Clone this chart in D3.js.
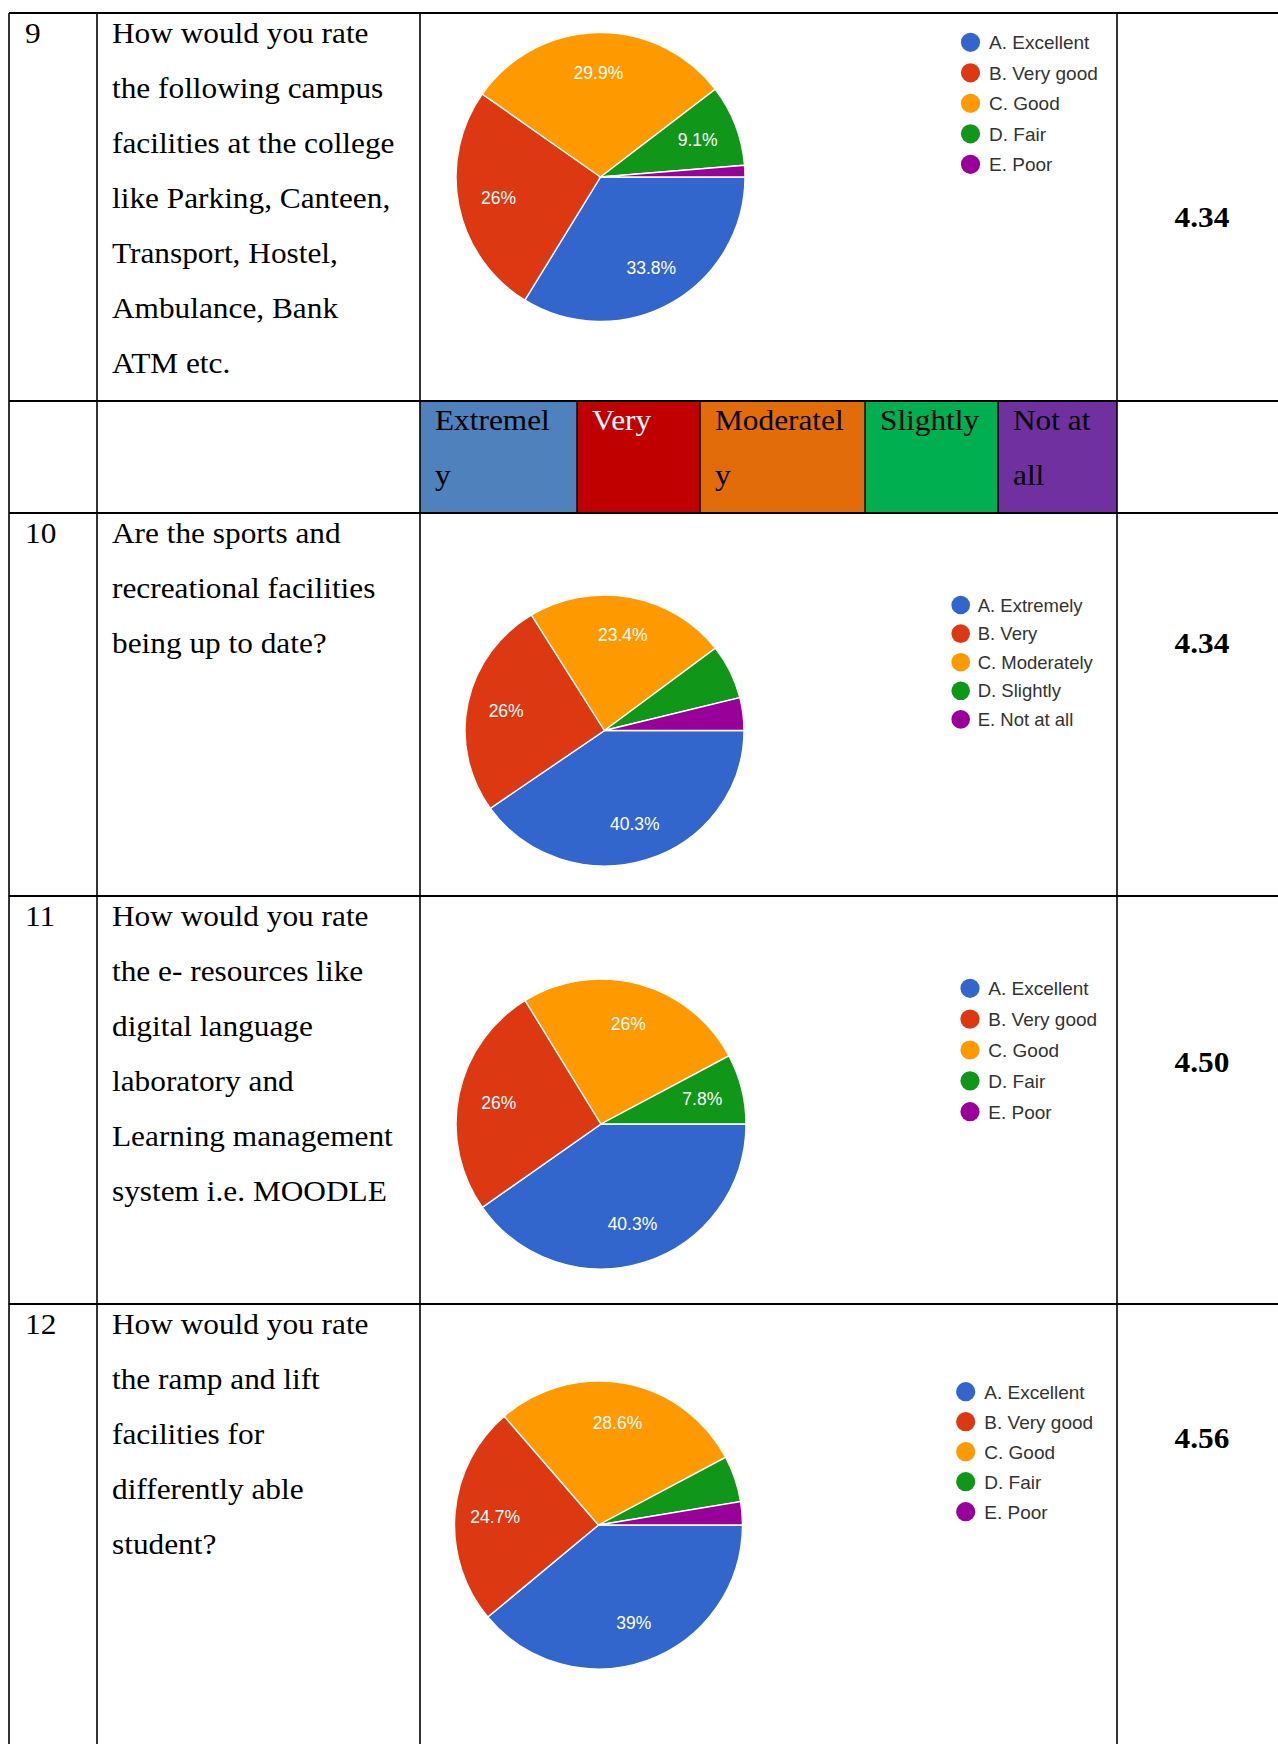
<!DOCTYPE html>
<html>
<head>
<meta charset="utf-8">
<script src="https://cdn.jsdelivr.net/npm/d3@7"></script>
<style>
  body { margin: 0; background: #fff; }
</style>
</head>
<body>
<script>
// ---- DATA ----
var questionNos = ["9", "", "10", "11", "12"]

var questionLines = [
  ["How would you rate", "the following campus", "facilities at the college",
   "like Parking, Canteen,", "Transport, Hostel,", "Ambulance, Bank", "ATM etc."],
  [],
  ["Are the sports and", "recreational facilities", "being up to date?"],
  ["How would you rate", "the e- resources like", "digital language",
   "laboratory and", "Learning management", "system i.e. MOODLE"],
  ["How would you rate", "the ramp and lift", "facilities for",
   "differently able", "student?"]
]

var headerLabels = [["Extremel", "y"], ["Very"], ["Moderatel", "y"], ["Slightly"], ["Not at", "all"]]
var headerFills = ["#4f81bd", "#c00000", "#e36c0a", "#00b050", "#7030a0"]
var headerInk = ["#000", "#fff", "#000", "#000", "#000"]

var ratingLegend = ["A. Excellent", "B. Very good", "C. Good", "D. Fair", "E. Poor"]
var extentLegend = ["A. Extremely", "B. Very", "C. Moderately", "D. Slightly", "E. Not at all"]

// percent of respondents per option A..E
var pie9 = [33.8, 26, 29.9, 9.1, 1.3]
var pie10 = [40.3, 26, 23.4, 6.5, 3.9]
var pie11 = [40.3, 26, 26, 7.8, 0]
var pie12 = [39, 24.7, 28.6, 5.2, 2.6]

var meanScores = ["4.34", "4.34", "4.50", "4.56"]

var sliceColors = ["#3366cc", "#dc3912", "#ff9900", "#109618", "#990099"]

// ---- LAYOUT ----
var W = 1278, H = 1744
var colX = [9, 97, 420, 1117]
var rowY = [13, 401, 513, 896, 1304]
var headerSplits = [420, 577, 700, 865, 998, 1117]
var SERIF = "'Liberation Serif', 'Times New Roman', serif"
var SANS = "'Liberation Sans', Arial, sans-serif"
var SX = 1.08       // the scanned text is a bit wider than the font
var LINE = 55

var svg = d3.select("body").append("svg")
    .attr("width", W)
    .attr("height", H)
    .style("display", "block")

svg.append("rect").attr("width", W).attr("height", H).attr("fill", "#fff")

// header row coloured cells
var header = svg.append("g")
header.selectAll("rect")
    .data(headerLabels)
    .enter()
    .append("rect")
    .attr("x", (d, i) => headerSplits[i])
    .attr("y", rowY[1])
    .attr("width", (d, i) => headerSplits[i + 1] - headerSplits[i])
    .attr("height", rowY[2] - rowY[1])
    .attr("fill", (d, i) => headerFills[i])

function serifText(g, str, x, y, opts) {
  opts = opts || {}
  return g.append("text")
    .attr("transform", `translate(${x},${y}) scale(${SX},1)`)
    .attr("font-family", SERIF)
    .attr("font-size", opts.size || 29)
    .attr("font-weight", opts.bold ? "bold" : null)
    .attr("text-anchor", opts.anchor || "start")
    .attr("fill", opts.fill || "#000")
    .text(str)
}

headerLabels.forEach((lines, i) => {
  lines.forEach((s, j) => {
    serifText(header, s, headerSplits[i] + 15, rowY[1] + 29 + j * LINE, { fill: headerInk[i] })
  })
})

// question numbers and text
var txt = svg.append("g")
questionNos.forEach((n, i) => {
  if (n) serifText(txt, n, 25, rowY[i] + 30)
  questionLines[i].forEach((s, j) => {
    serifText(txt, s, colX[1] + 15, rowY[i] + 30 + j * LINE)
  })
})

// pies
var color = d3.scaleOrdinal().domain(d3.range(5)).range(sliceColors)
var pie = d3.pie().sort(null)
    .startAngle(Math.PI / 2)
    .endAngle(Math.PI / 2 + 2 * Math.PI)

var charts = [
  { values: pie9,  legend: ratingLegend, cx: 600.5, cy: 177,  r: 144.5, ry: 144.5,
    lx: 970.5, ly: 42.3, ldy: 30.5, lr: 9.6, lfs: 19, tx: 989 },
  { values: pie10, legend: extentLegend, cx: 604.5, cy: 730.5, r: 139.5, ry: 135.5,
    lx: 960.7, ly: 605, ldy: 28.6, lr: 9.3, lfs: 18.5, tx: 977.7 },
  { values: pie11, legend: ratingLegend, cx: 601, cy: 1124, r: 145, ry: 145,
    lx: 970, ly: 988.3, ldy: 30.85, lr: 9.6, lfs: 19, tx: 988.3 },
  { values: pie12, legend: ratingLegend, cx: 598.5, cy: 1525, r: 144, ry: 144,
    lx: 965.7, ly: 1391.7, ldy: 30, lr: 9.6, lfs: 19, tx: 984.3 }
]

charts.forEach(c => {
  var sy = c.ry / c.r
  var arcs = pie(c.values)
  var arc = d3.arc().innerRadius(0).outerRadius(c.r)
  var labelArc = d3.arc().innerRadius(c.r * 0.72).outerRadius(c.r * 0.72)

  var g = svg.append("g").attr("transform", `translate(${c.cx},${c.cy})`)
  g.append("g")
      .attr("transform", `scale(1,${sy})`)
    .selectAll("path")
    .data(arcs.filter(d => d.value > 0))
    .enter()
    .append("path")
      .attr("d", arc)
      .attr("fill", d => color(d.index))
      .attr("stroke", "#fff")
      .attr("stroke-width", 1.4)

  g.selectAll("text")
    .data(arcs.filter(d => d.value >= 7))
    .enter()
    .append("text")
      .attr("x", d => labelArc.centroid(d)[0])
      .attr("y", d => labelArc.centroid(d)[1] * sy)
      .attr("dy", "0.36em")
      .attr("text-anchor", "middle")
      .attr("font-family", SANS)
      .attr("font-size", 17.5)
      .attr("fill", "#fff")
      .text(d => d.value + "%")

  // legend
  var lg = svg.append("g")
  var ly = d3.scaleLinear().domain([0, 1]).range([c.ly, c.ly + c.ldy])
  var item = lg.selectAll("g")
      .data(c.legend)
      .enter()
      .append("g")
  item.append("circle")
      .attr("cx", c.lx)
      .attr("cy", (d, i) => ly(i))
      .attr("r", c.lr)
      .attr("fill", (d, i) => color(i))
  item.append("text")
      .attr("x", c.tx)
      .attr("y", (d, i) => ly(i))
      .attr("dy", "0.36em")
      .attr("font-family", SANS)
      .attr("font-size", c.lfs)
      .attr("fill", "#333")
      .text(d => d)
})

// mean scores
var valueBaselines = [227, 653, 1072, 1448]
meanScores.forEach((s, i) => {
  serifText(txt, s, 1202, valueBaselines[i], { bold: true, anchor: "middle" })
})

// grid lines
var grid = svg.append("g").attr("stroke", "#000")
grid.selectAll("line.h")
    .data(rowY)
    .enter()
    .append("line")
    .attr("x1", colX[0]).attr("x2", W)
    .attr("y1", d => d).attr("y2", d => d)
    .attr("stroke-width", 2)
grid.selectAll("line.v")
    .data(colX)
    .enter()
    .append("line")
    .attr("x1", d => d).attr("x2", d => d)
    .attr("y1", rowY[0]).attr("y2", H)
    .attr("stroke-width", 1.6)
grid.selectAll("line.s")
    .data(headerSplits.slice(1, -1))
    .enter()
    .append("line")
    .attr("x1", d => d).attr("x2", d => d)
    .attr("y1", rowY[1]).attr("y2", rowY[2])
    .attr("stroke-width", 1.4)
</script>
</body>
</html>
